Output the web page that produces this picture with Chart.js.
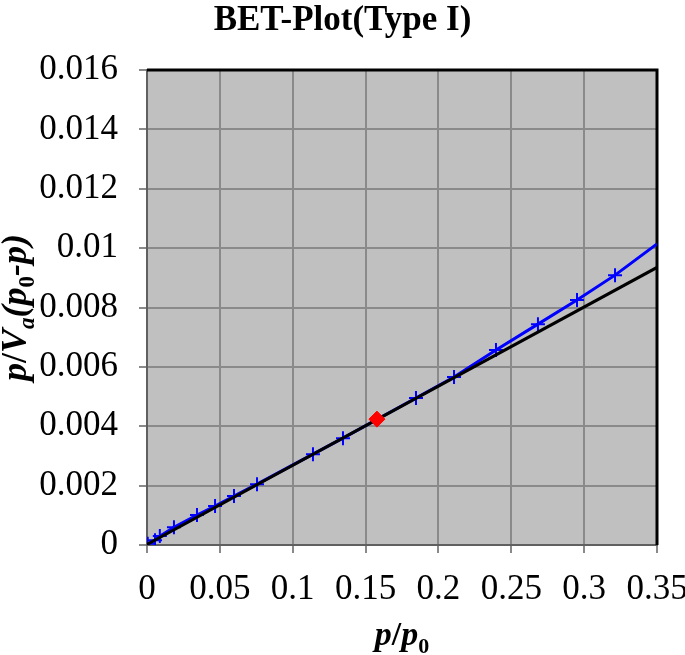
<!DOCTYPE html>
<html>
<head>
<meta charset="utf-8">
<title>BET-Plot(Type I)</title>
<script src="https://cdn.jsdelivr.net/npm/chart.js@4.4.1/dist/chart.umd.min.js"></script>
<style>
  body { margin: 0; background: #fff; }
  #wrap { width: 685px; height: 655px; }
</style>
</head>
<body>
<div id="wrap"><canvas id="betChart" width="685" height="655"></canvas></div>
<script>
// measured points, p/p0 and p/Va(p0-p)
const measX = [0.0005, 0.0055, 0.0088, 0.0185, 0.0343, 0.0467, 0.0597, 0.0755,
  0.1139, 0.1345, 0.1846, 0.2107, 0.2395, 0.2683, 0.2951, 0.3212];
const measY = [0.00004, 0.00016, 0.00030, 0.00060, 0.00101, 0.00131, 0.00165, 0.00205,
  0.00306, 0.00360, 0.00495, 0.00566, 0.00657, 0.00744, 0.00825, 0.00909];
// blue curve carries on to the right edge past the last point
const curveEndX = 0.35;
const curveEndY = 0.01014;

// straight BET fit line
const fitX = [0, 0.35];
const fitY = [0.00002, 0.00935];

// chosen point (red diamond)
const pickX = [0.1578];
const pickY = [0.00424];

const xTicks = [0, 0.05, 0.1, 0.15, 0.2, 0.25, 0.3, 0.35];
const xTickLabels = ["0", "0.05", "0.1", "0.15", "0.2", "0.25", "0.3", "0.35"];
const yTicks = [0, 0.002, 0.004, 0.006, 0.008, 0.01, 0.012, 0.014, 0.016];
const yTickLabels = ["0", "0.002", "0.004", "0.006", "0.008", "0.01", "0.012", "0.014", "0.016"];

const serif = "'Liberation Serif', 'Times New Roman', serif";

const toPoints = (xs, ys) => xs.map((x, i) => ({ x: x, y: ys[i] }));

const bluePoints = toPoints(measX, measY).concat([{ x: curveEndX, y: curveEndY }]);

// gray plot background + black frame on top/right
const plotFrame = {
  id: "plotFrame",
  beforeDraw(chart) {
    const { ctx, chartArea: a } = chart;
    ctx.save();
    ctx.fillStyle = "#c0c0c0";
    ctx.fillRect(a.left, a.top, a.right - a.left, a.bottom - a.top);
    ctx.restore();
  },
  beforeDatasetsDraw(chart) {
    const { ctx, chartArea: a } = chart;
    ctx.save();
    ctx.strokeStyle = "#000";
    ctx.lineWidth = 3;
    ctx.beginPath();
    ctx.moveTo(a.left, a.top);
    ctx.lineTo(a.right, a.top);
    ctx.lineTo(a.right, a.bottom);
    ctx.stroke();
    ctx.restore();
  },
};

// axis titles with subscripts
function richWidth(ctx, parts) {
  let w = 0;
  parts.forEach((p) => {
    ctx.font = p.font;
    w += ctx.measureText(p.t).width;
  });
  return w;
}
function drawRich(ctx, parts, x, y) {
  let cx = x;
  parts.forEach((p) => {
    ctx.font = p.font;
    ctx.fillText(p.t, cx, y + (p.dy || 0));
    cx += ctx.measureText(p.t).width;
  });
}
const big = "italic bold 36px " + serif;
const slash = "bold 36px " + serif;
const subUp = "bold 23px " + serif;
const subIt = "italic bold 23px " + serif;
const bigX = "italic bold 34px " + serif;
const slashX = "bold 34px " + serif;
const subX = "bold 22px " + serif;

const axisTitles = {
  id: "axisTitles",
  afterDraw(chart) {
    const { ctx, chartArea: a } = chart;
    ctx.save();
    ctx.fillStyle = "#000";
    ctx.textBaseline = "alphabetic";
    const xt = [
      { t: "p", font: bigX }, { t: "/", font: slashX }, { t: "p", font: bigX },
      { t: "0", font: subX, dy: 8 },
    ];
    const xw = richWidth(ctx, xt);
    drawRich(ctx, xt, (a.left + a.right) / 2 - xw / 2, 645);

    const yt = [
      { t: "p", font: big }, { t: "/", font: slash }, { t: "V", font: big },
      { t: "a", font: subIt, dy: 8 }, { t: "(", font: big }, { t: "p", font: big },
      { t: "0", font: subUp, dy: 8 }, { t: "-", font: big }, { t: "p", font: big },
      { t: ")", font: big },
    ];
    const yw = richWidth(ctx, yt);
    ctx.translate(26, (a.top + a.bottom) / 2);
    ctx.rotate(-Math.PI / 2);
    drawRich(ctx, yt, -yw / 2, 0);
    ctx.restore();
  },
};

new Chart(document.getElementById("betChart"), {
  type: "scatter",
  data: {
    datasets: [
      {
        label: "chosen",
        data: toPoints(pickX, pickY),
        pointStyle: "rectRot",
        pointRadius: 8,
        backgroundColor: "#ff0000",
        borderColor: "#ff0000",
        borderWidth: 1,
        order: 0,
      },
      {
        label: "fit",
        data: toPoints(fitX, fitY),
        showLine: true,
        borderColor: "#000000",
        borderWidth: 3,
        pointRadius: 0,
        order: 1,
      },
      {
        label: "BET",
        data: bluePoints,
        showLine: true,
        borderColor: "#0000ff",
        backgroundColor: "#0000ff",
        borderWidth: 3,
        pointStyle: "cross",
        pointRadius: (c) => (c.dataIndex === bluePoints.length - 1 ? 0 : 7),
        pointBorderWidth: 2,
        order: 2,
      },
    ],
  },
  options: {
    responsive: false,
    animation: false,
    scales: {
      x: {
        type: "linear",
        min: 0,
        max: 0.35,
        afterBuildTicks: (s) => { s.ticks = xTicks.map((v) => ({ value: v })); },
        afterFit: (s) => { s.height = 110; s.paddingRight = 28; },
        ticks: {
          callback: (v, i) => xTickLabels[i],
          font: { family: serif, size: 35 },
          color: "#000",
          padding: 16,
          maxRotation: 0,
          autoSkip: false,
        },
        grid: { color: "#8a8a8a", lineWidth: 2, tickLength: 8 },
        border: { color: "#606060", width: 2 },
      },
      y: {
        type: "linear",
        min: 0,
        max: 0.016,
        afterBuildTicks: (s) => { s.ticks = yTicks.map((v) => ({ value: v })); },
        afterFit: (s) => { s.width = 147; },
        ticks: {
          callback: (v, i) => yTickLabels[i],
          font: { family: serif, size: 35 },
          color: "#000",
          padding: 21,
          autoSkip: false,
        },
        grid: { color: "#8a8a8a", lineWidth: 2, tickLength: 8 },
        border: { color: "#606060", width: 2 },
      },
    },
    plugins: {
      legend: { display: false },
      tooltip: { enabled: false },
      title: {
        display: true,
        text: "BET-Plot(Type I)",
        font: { family: serif, size: 35, weight: "bold" },
        color: "#000",
        padding: { top: 0, bottom: 28 },
      },
    },
  },
  plugins: [plotFrame, axisTitles],
});
</script>
</body>
</html>
